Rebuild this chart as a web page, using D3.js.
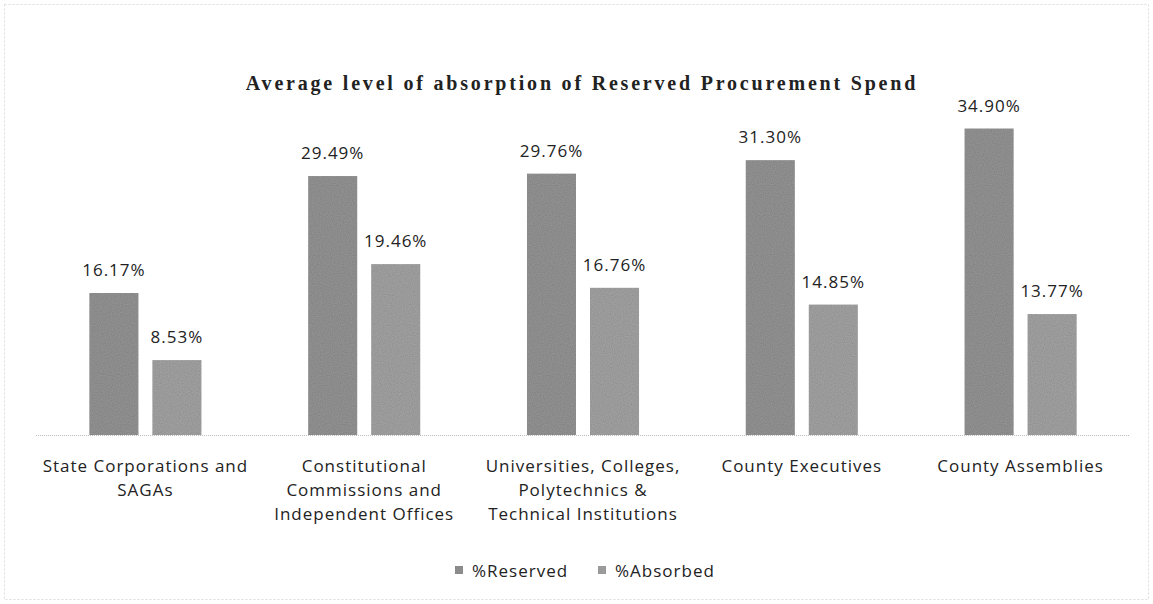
<!DOCTYPE html>
<html>
<head>
<meta charset="utf-8">
<script src="https://cdn.jsdelivr.net/npm/d3@7"></script>
<style>
  body { margin: 0; background: #fff; }
  svg { display: block; }
</style>
</head>
<body>
<div class="canvas"></div>
<script>
var categories = [
  ["State Corporations and", "SAGAs"],
  ["Constitutional", "Commissions and", "Independent Offices"],
  ["Universities, Colleges,", "Polytechnics &", "Technical Institutions"],
  ["County Executives"],
  ["County Assemblies"]
];
var seriesNames = ["%Reserved", "%Absorbed"];
var reserved = [16.17, 29.49, 29.76, 31.30, 34.90];
var absorbed = [8.53, 19.46, 16.76, 14.85, 13.77];

var width = 1153, height = 604;
var plot = { left: 36, right: 1130, top: 100, bottom: 435 };
var font = "Open Sans, DejaVu Sans, sans-serif";

var svg = d3.select(".canvas").append("svg")
  .attr("width", width)
  .attr("height", height);

// grainy fill to imitate the scanned print
var defs = svg.append("defs");
var filt = defs.append("filter").attr("id", "grain")
  .attr("x", 0).attr("y", 0).attr("width", 1).attr("height", 1);
filt.append("feTurbulence").attr("type", "fractalNoise")
  .attr("baseFrequency", 0.9).attr("numOctaves", 1).attr("seed", 3).attr("result", "noise");
filt.append("feColorMatrix").attr("in", "noise").attr("type", "matrix")
  .attr("values", "0 0 0 0 0  0 0 0 0 0  0 0 0 0 0  0 0 0 0.35 0").attr("result", "dots");
filt.append("feComposite").attr("in", "dots").attr("in2", "SourceGraphic").attr("operator", "in").attr("result", "dots2");
var fm = filt.append("feMerge");
fm.append("feMergeNode").attr("in", "SourceGraphic");
fm.append("feMergeNode").attr("in", "dots2");

var colors = ["#999999", "#a8a8a8"];

// faint outer border
svg.append("rect")
  .attr("x", 4.5).attr("y", 4.5)
  .attr("width", width - 9).attr("height", height - 9)
  .attr("fill", "none")
  .attr("stroke", "#dcdcdc")
  .attr("stroke-dasharray", "2,2");

svg.append("text")
  .attr("x", 582).attr("y", 90)
  .attr("text-anchor", "middle")
  .attr("font-family", "Liberation Serif, DejaVu Serif, serif")
  .attr("font-weight", "bold")
  .attr("font-size", 20)
  .attr("letter-spacing", 2.8)
  .attr("fill", "#222")
  .text("Average level of absorption of Reserved Procurement Spend");

var x0 = d3.scaleBand()
  .domain(d3.range(categories.length))
  .range([plot.left, plot.right]);

var x1 = d3.scaleBand()
  .domain(d3.range(seriesNames.length))
  .range([0, x0.bandwidth()])
  .paddingInner(0.222)
  .paddingOuter(0.847);

var y = d3.scaleLinear()
  .domain([0, 38.15])
  .range([plot.bottom, plot.top]);

var rows = categories.map(function(c, i) {
  return [reserved[i], absorbed[i]];
});

var groups = svg.selectAll(".grp")
  .data(rows)
  .enter()
  .append("g")
  .attr("class", "grp")
  .attr("transform", function(d, i) { return "translate(" + x0(i) + ",0)"; });

groups.selectAll("rect")
  .data(function(d) { return d; })
  .enter()
  .append("rect")
  .attr("x", function(d, j) { return x1(j); })
  .attr("y", function(d) { return y(d); })
  .attr("width", x1.bandwidth())
  .attr("height", function(d) { return y(0) - y(d); })
  .attr("fill", function(d, j) { return colors[j]; })
  .attr("filter", "url(#grain)");

groups.selectAll(".val")
  .data(function(d) { return d; })
  .enter()
  .append("text")
  .attr("class", "val")
  .attr("x", function(d, j) { return x1(j) + x1.bandwidth() / 2; })
  .attr("y", function(d) { return y(d) - 17; })
  .attr("text-anchor", "middle")
  .attr("font-family", font)
  .attr("font-size", 17)
  .attr("letter-spacing", 1)
  .attr("fill", "#222")
  .text(function(d) { return d.toFixed(2) + "%"; });

// baseline
svg.append("line")
  .attr("x1", plot.left).attr("x2", plot.right)
  .attr("y1", y(0) + 0.5).attr("y2", y(0) + 0.5)
  .attr("stroke", "#bdbdbd")
  .attr("stroke-dasharray", "1,1");

// category labels
categories.forEach(function(lines, i) {
  var t = svg.append("text")
    .attr("text-anchor", "middle")
    .attr("font-family", font)
    .attr("font-size", 17)
    .attr("letter-spacing", 1)
    .attr("fill", "#222");
  lines.forEach(function(s, k) {
    t.append("tspan")
      .attr("x", x0(i) + x0.bandwidth() / 2)
      .attr("y", 472 + k * 24)
      .text(s);
  });
});

// legend
var legend = svg.append("g");
var lx = [455, 598];
seriesNames.forEach(function(name, j) {
  legend.append("rect")
    .attr("x", lx[j]).attr("y", 566)
    .attr("width", 8).attr("height", 8)
    .attr("fill", colors[j])
    .attr("filter", "url(#grain)");
  legend.append("text")
    .attr("x", lx[j] + 17).attr("y", 577)
    .attr("font-family", font)
    .attr("font-size", 17)
    .attr("letter-spacing", 1)
    .attr("fill", "#222")
    .text(name);
});
</script>
</body>
</html>
